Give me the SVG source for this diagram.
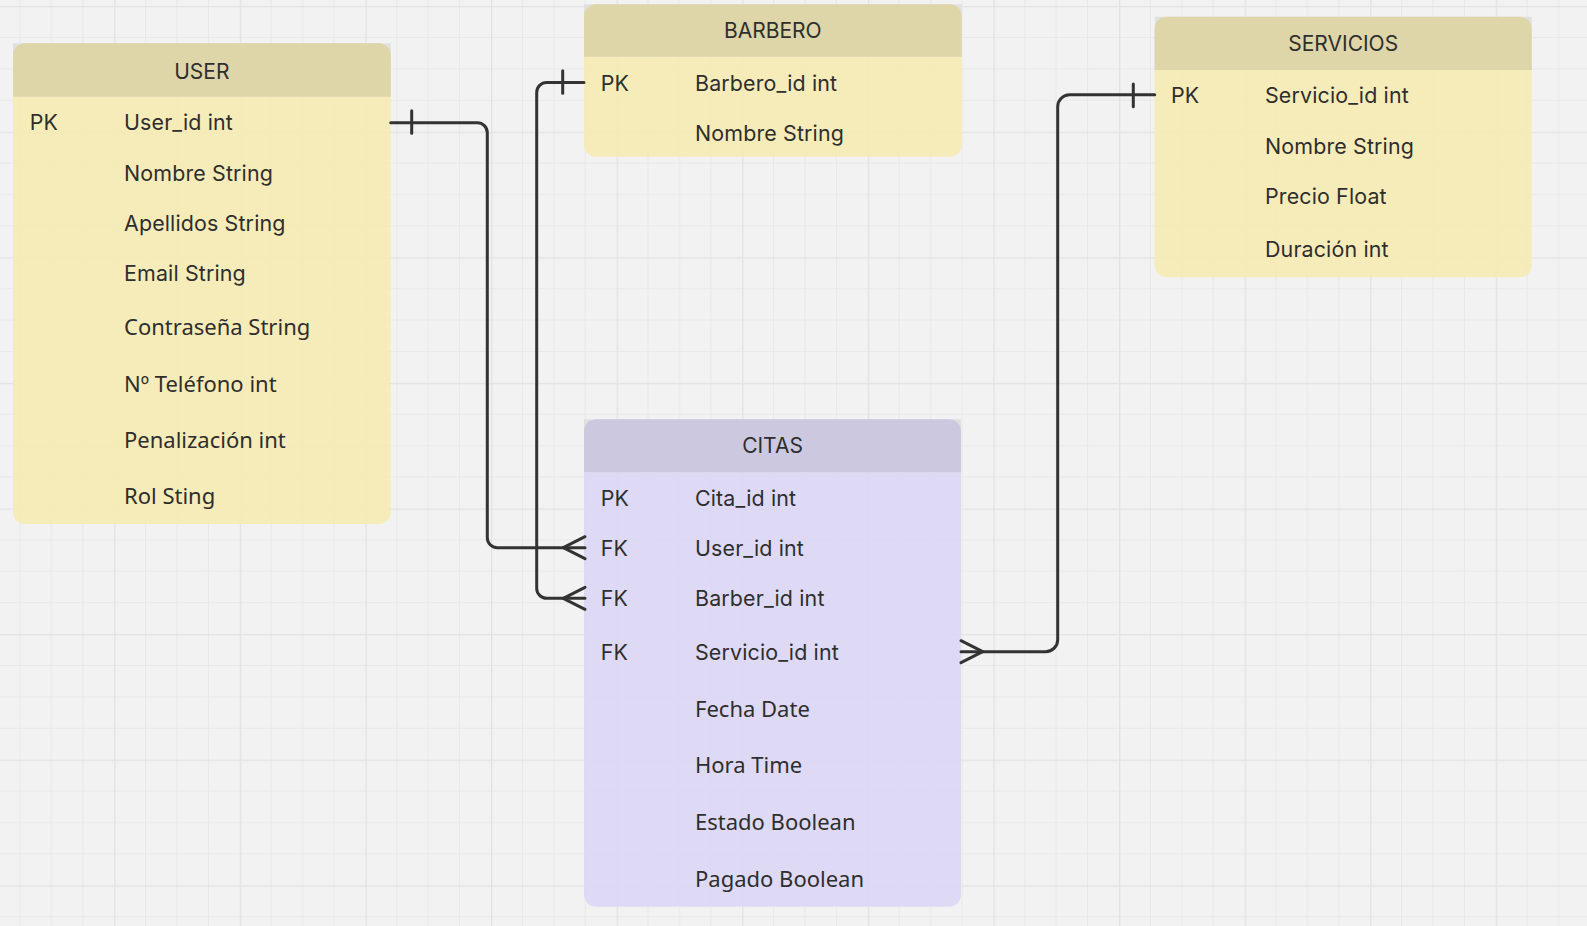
<svg xmlns="http://www.w3.org/2000/svg" width="1587" height="926" viewBox="0 0 1587 926">
  <defs>
    <!-- canvas grid: 4 minor cells per major cell -->
    <pattern id="grid" patternUnits="userSpaceOnUse" x="-11.4" y="6.1" width="125.6" height="125.6">
      <rect width="125.6" height="125.6" fill="#f2f2f2"/>
      <path d="M31.4 0V125.6M62.8 0V125.6M94.2 0V125.6M0 31.4H125.6M0 62.8H125.6M0 94.2H125.6" stroke="#e8e8e8" stroke-width="1" fill="none"/>
      <path d="M0.5 0V125.6M0 0.5H125.6" stroke="#e2e2e2" stroke-width="1.6" fill="none"/>
    </pattern>
  </defs>
  <style>
    .corner { fill: #e0e0e0; }
    .y-body { fill: #f5ebb5; fill-opacity: 0.94; }
    .y-head { fill: #ddd5a5; fill-opacity: 0.94; }
    .p-body { fill: #dcd8f4; fill-opacity: 0.94; }
    .p-head { fill: #c9c6df; fill-opacity: 0.94; }
    text { fill: #2e2e2e; }
    .title { font-family: Inter, "Liberation Sans", sans-serif; font-size: 21px; text-anchor: middle; }
    .geo { font-family: Inter, "Liberation Sans", sans-serif; font-size: 21.4px; letter-spacing: 0.15px; }
    .noto { font-family: "Noto Sans", "Open Sans", sans-serif; font-size: 22px; }
    .conn { fill: none; stroke: #333333; stroke-width: 3; stroke-linecap: round; stroke-linejoin: round; }
  </style>

  <rect width="1587" height="926" fill="url(#grid)"/>

  <!-- USER table -->
  <g id="user">
    <rect class="corner" x="13" y="43.3" width="377.7" height="53.4"/>
    <path class="y-body" d="M13 96.7H390.7V512a12 12 0 0 1 -12 12H25a12 12 0 0 1 -12 -12Z"/>
    <path class="y-head" d="M25 43.3H378.7a12 12 0 0 1 12 12V96.7H13V55.3a12 12 0 0 1 12 -12Z"/>
    <text class="title" x="201.8" y="79.3">USER</text>
    <text class="geo" x="29.7" y="130">PK</text>
    <text class="geo" x="124" y="130">User_id int</text>
    <text class="geo" x="124" y="180.5">Nombre String</text>
    <text class="geo" x="124" y="230.7">Apellidos String</text>
    <text class="geo" x="124" y="281.3">Email String</text>
    <text class="noto" x="124" y="335">Contraseña String</text>
    <text class="noto" x="124" y="391.7">Nº Teléfono int</text>
    <text class="noto" x="124" y="447.7">Penalización int</text>
    <text class="noto" x="124" y="504">Rol Sting</text>
  </g>

  <!-- BARBERO table -->
  <g id="barbero">
    <rect class="corner" x="584" y="4.3" width="377.7" height="52.4"/>
    <path class="y-body" d="M584 56.7H961.7V144.7a12 12 0 0 1 -12 12H596a12 12 0 0 1 -12 -12Z"/>
    <path class="y-head" d="M596 4.3H949.7a12 12 0 0 1 12 12V56.7H584V16.3a12 12 0 0 1 12 -12Z"/>
    <text class="title" x="772.8" y="38.3">BARBERO</text>
    <text class="geo" x="600.7" y="90.7">PK</text>
    <text class="geo" x="695" y="90.7">Barbero_id int</text>
    <text class="geo" x="695" y="141.3">Nombre String</text>
  </g>

  <!-- SERVICIOS table -->
  <g id="servicios">
    <rect class="corner" x="1154.7" y="16.7" width="377" height="53.3"/>
    <path class="y-body" d="M1154.7 70H1531.7V265.3a12 12 0 0 1 -12 12H1166.7a12 12 0 0 1 -12 -12Z"/>
    <path class="y-head" d="M1166.7 16.7H1519.7a12 12 0 0 1 12 12V70H1154.7V28.7a12 12 0 0 1 12 -12Z"/>
    <text class="title" x="1343.2" y="50.7">SERVICIOS</text>
    <text class="geo" x="1171" y="103.3">PK</text>
    <text class="geo" x="1265" y="103.3">Servicio_id int</text>
    <text class="geo" x="1265" y="153.7">Nombre String</text>
    <text class="geo" x="1265" y="204">Precio Float</text>
    <text class="geo" x="1265" y="257.3">Duración int</text>
  </g>

  <!-- CITAS table -->
  <g id="citas">
    <rect class="corner" x="584" y="419.3" width="377" height="53"/>
    <path class="p-body" d="M584 472.3H961V894.7a12 12 0 0 1 -12 12H596a12 12 0 0 1 -12 -12Z"/>
    <path class="p-head" d="M596 419.3H949a12 12 0 0 1 12 12V472.3H584V431.3a12 12 0 0 1 12 -12Z"/>
    <text class="title" x="772.5" y="453.3">CITAS</text>
    <text class="geo" x="600.7" y="506">PK</text>
    <text class="geo" x="695" y="506">Cita_id int</text>
    <text class="geo" x="600.7" y="555.8">FK</text>
    <text class="geo" x="695" y="555.8">User_id int</text>
    <text class="geo" x="600.7" y="606.3">FK</text>
    <text class="geo" x="695" y="606.3">Barber_id int</text>
    <text class="geo" x="600.7" y="660">FK</text>
    <text class="geo" x="695" y="660">Servicio_id int</text>
    <text class="noto" x="695" y="716.5">Fecha Date</text>
    <text class="noto" x="695" y="773">Hora Time</text>
    <text class="noto" x="695" y="830">Estado Boolean</text>
    <text class="noto" x="695" y="886.7">Pagado Boolean</text>
  </g>

  <!-- relationships: one (bar) to many (crow's foot) -->
  <g id="connectors">
    <!-- USER.User_id -> CITAS.User_id -->
    <path class="conn" d="M390.7 122.7H477.3a10 10 0 0 1 10 10V537.7a10 10 0 0 0 10 10H585"/>
    <path class="conn" d="M411.7 110.7V133.3"/>
    <path class="conn" d="M585 536.7L563.3 547.7L585 558.7"/>

    <!-- BARBERO.Barbero_id -> CITAS.Barber_id -->
    <path class="conn" d="M584 82.5H546.7a10 10 0 0 0 -10 10V588.3a10 10 0 0 0 10 10H585"/>
    <path class="conn" d="M562.7 70.7V93.3"/>
    <path class="conn" d="M585 587.3L563.3 598.3L585 609.3"/>

    <!-- SERVICIOS.Servicio_id -> CITAS.Servicio_id -->
    <path class="conn" d="M1154.7 94.7H1069.7a12 12 0 0 0 -12 12V639.7a12 12 0 0 1 -12 12H961"/>
    <path class="conn" d="M1133.3 84V106.7"/>
    <path class="conn" d="M961 640.7L982.7 651.7L961 662.7"/>
  </g>
</svg>
